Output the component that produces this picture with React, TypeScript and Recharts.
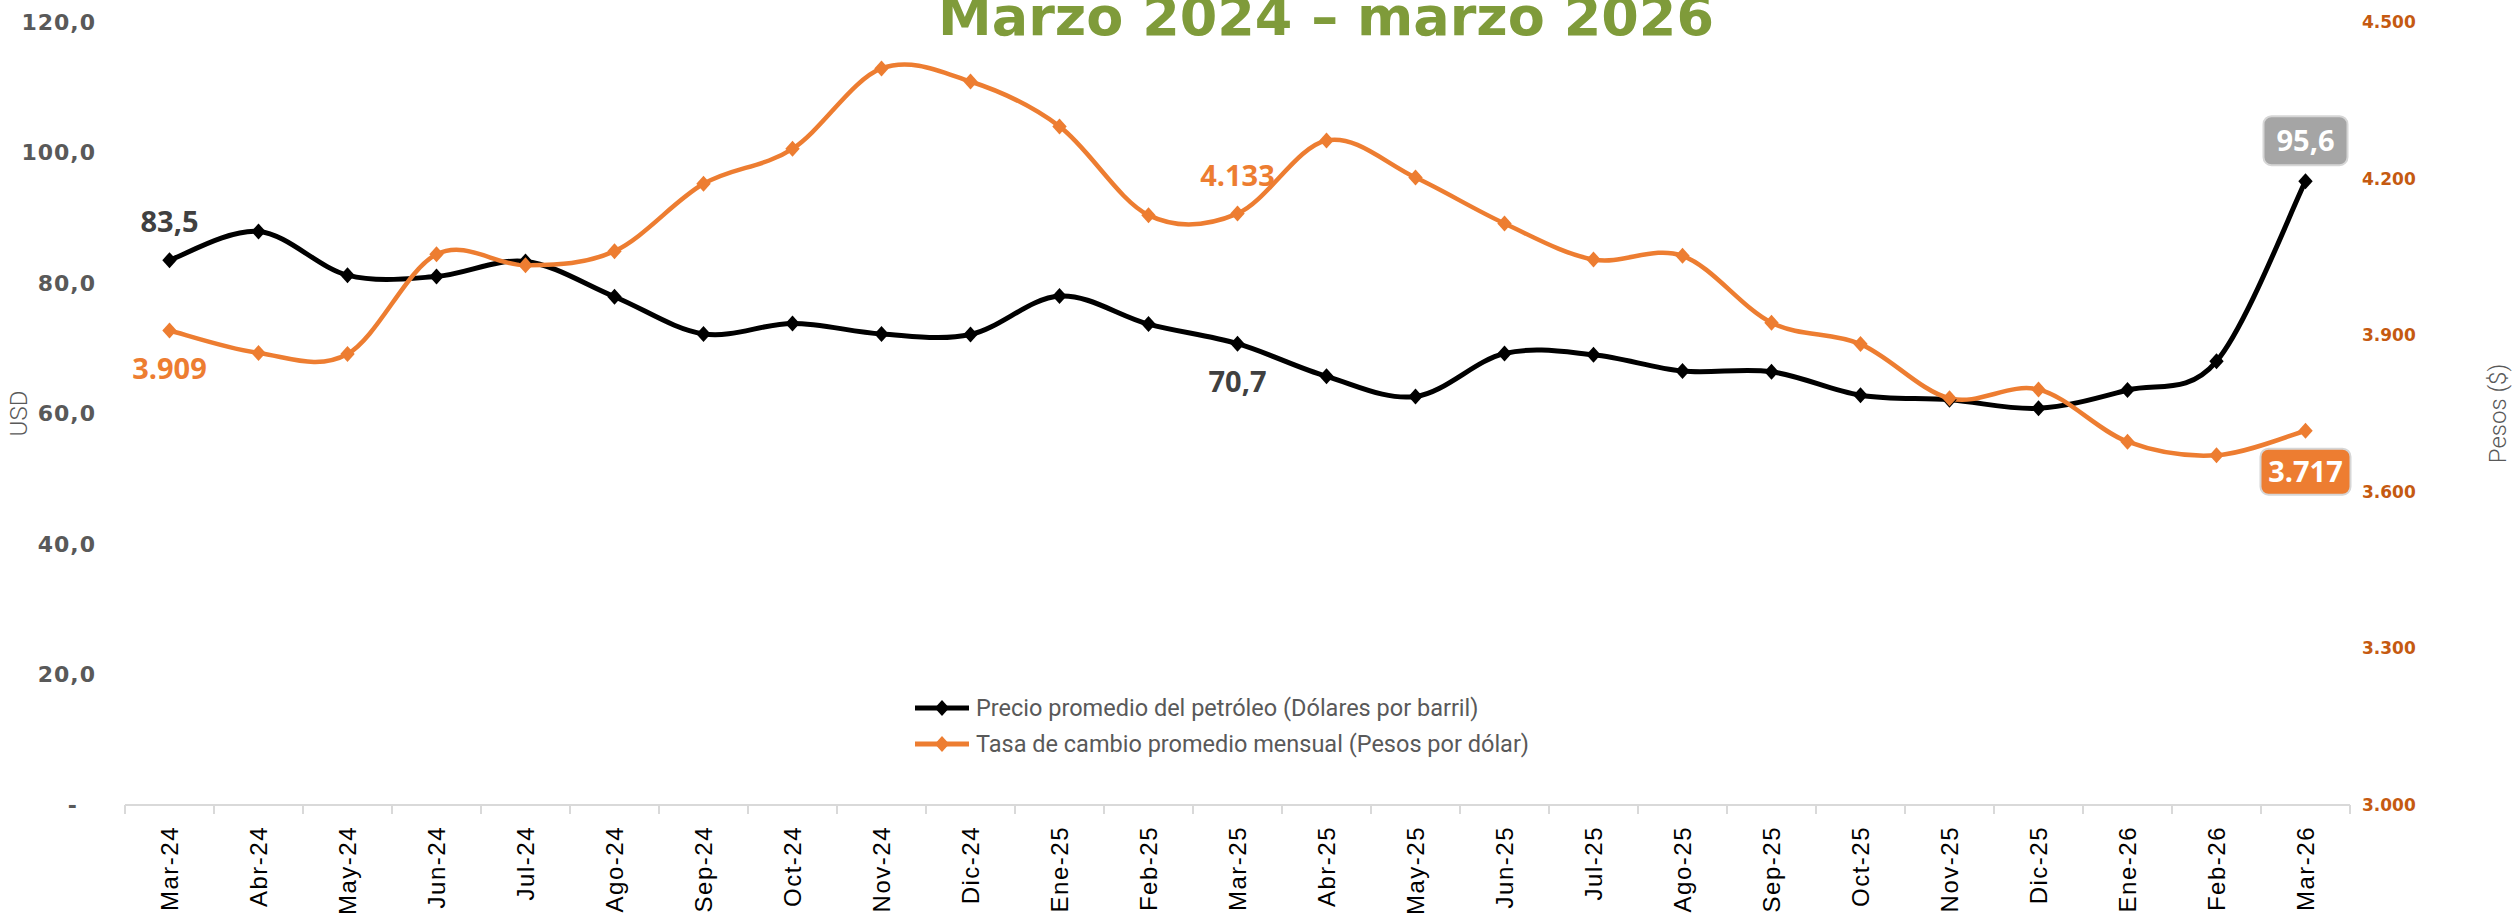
import React from 'react';
import { LineChart, Line, XAxis, YAxis, Legend, Label } from 'recharts';

// ---------- DATA ----------
const MONTHS = [
  'Mar-24', 'Abr-24', 'May-24', 'Jun-24', 'Jul-24', 'Ago-24', 'Sep-24', 'Oct-24', 'Nov-24', 'Dic-24',
  'Ene-25', 'Feb-25', 'Mar-25', 'Abr-25', 'May-25', 'Jun-25', 'Jul-25', 'Ago-25', 'Sep-25', 'Oct-25',
  'Nov-25', 'Dic-25', 'Ene-26', 'Feb-26', 'Mar-26',
];
const OIL_PRICE = [
  83.5, 87.9, 81.2, 81.0, 83.3, 77.9, 72.2, 73.8, 72.2, 72.1,
  78.0, 73.7, 70.7, 65.7, 62.6, 69.2, 69.0, 66.5, 66.4, 62.8,
  62.1, 60.8, 63.6, 68.0, 95.6,
];
const EXCHANGE_RATE = [
  3909, 3866, 3864, 4055, 4034, 4061, 4190, 4257, 4411, 4386,
  4300, 4130, 4133, 4273, 4202, 4114, 4045, 4052, 3924, 3883,
  3779, 3796, 3696, 3670, 3717,
];
const LEFT_TICKS = [0, 20, 40, 60, 80, 100, 120];
const RIGHT_TICKS = [3000, 3300, 3600, 3900, 4200, 4500];
const OIL_NAME = 'Precio promedio del petróleo (Dólares por barril)';
const RATE_NAME = 'Tasa de cambio promedio mensual (Pesos por dólar)';
const TITLE = 'Marzo 2024 – marzo 2026';
const OIL_LABELS = [
  { index: 0, mode: 'above' },
  { index: 12, mode: 'below' },
  { index: 24, mode: 'boxAbove' },
];
const RATE_LABELS = [
  { index: 0, mode: 'below' },
  { index: 12, mode: 'above' },
  { index: 24, mode: 'boxBelow' },
];

// ---------- LAYOUT / STYLE ----------
const W = 2519;
const H = 920;
const TOP = 22;
const LEFT_W = 125;
const RIGHT_W = 169;
const XAXIS_H = 115;
const PLOT_W = W - LEFT_W - RIGHT_W;
const HALF_BAND = PLOT_W / MONTHS.length / 2;
const BLACK = '#000000';
const ORANGE = '#ED7D31';
const GRAY_TXT = '#595959';
const DARK_LBL = '#404040';
const RIGHT_TXT = '#C55A11';

const data = MONTHS.map((m, i) => ({ month: m, oil: OIL_PRICE[i], rate: EXCHANGE_RATE[i] }));

const fmtOil = (v: number) => v.toFixed(1).replace('.', ',');
const fmtRate = (v: number) => Math.round(v).toString().replace(/\B(?=(\d{3})+(?!\d))/g, '.');

// Excel-like smoothed line (Catmull-Rom style bezier)
function excelCurve(context: any) {
  let pts: number[][] = [];
  return {
    areaStart() {},
    areaEnd() {},
    lineStart() { pts = []; },
    point(x: number, y: number) { pts.push([+x, +y]); },
    lineEnd() {
      if (!pts.length) return;
      context.moveTo(pts[0][0], pts[0][1]);
      for (let i = 0; i < pts.length - 1; i++) {
        const p0 = pts[i - 1] || pts[i];
        const p1 = pts[i];
        const p2 = pts[i + 1];
        const p3 = pts[i + 2] || p2;
        const c1x = p1[0] + (p2[0] - p0[0]) / 6;
        const c1y = p1[1] + (p2[1] - p0[1]) / 6;
        const c2x = p2[0] - (p3[0] - p1[0]) / 6;
        const c2y = p2[1] - (p3[1] - p1[1]) / 6;
        context.bezierCurveTo(c1x, c1y, c2x, c2y, p2[0], p2[1]);
      }
    },
  };
}

const diamondPath = (cx: number, cy: number, r: number) =>
  `M${cx} ${cy - r} L${cx + r * 0.9} ${cy} L${cx} ${cy + r} L${cx - r * 0.9} ${cy} Z`;

const makeDot = (color: string) => (p: any) => {
  const { cx, cy, index } = p;
  if (cx == null || cy == null) return <g key={`d-${color}-${index}`} />;
  return <path key={`d-${color}-${index}`} d={diamondPath(cx, cy, 8)} fill={color} />;
};

const LABEL_FONT = '"Open Sans", "Noto Sans", sans-serif';

const makeLabel = (cfg: { index: number; mode: string }[], color: string, boxFill: string, fmt: (v: number) => string) => (p: any) => {
  const { x, y, value, index } = p;
  const c = cfg.find((k) => k.index === index);
  if (!c || x == null || y == null) return <g key={`l-${color}-${index}`} />;
  const txt = fmt(Number(value));
  if (c.mode === 'above' || c.mode === 'below') {
    const ty = c.mode === 'above' ? y - 38 : y + 38;
    return (
      <text key={`l-${color}-${index}`} x={x} y={ty} dy="0.35em" textAnchor="middle"
        fontFamily={LABEL_FONT} fontWeight={700} fontSize={29} fill={color}>{txt}</text>
    );
  }
  const bw = txt.length > 4 ? 90 : 84;
  const bh = c.mode === 'boxAbove' ? 49 : 46;
  const by = c.mode === 'boxAbove' ? y - 16 - bh : y + 18;
  return (
    <g key={`l-${color}-${index}`}>
      <rect x={x - bw / 2} y={by} width={bw} height={bh} rx={8} ry={8} fill={boxFill} stroke="#D6D6D6" strokeWidth={2} />
      <text x={x} y={by + bh / 2} dy="0.35em" textAnchor="middle" fontFamily={LABEL_FONT}
        fontWeight={700} fontSize={29} fill="#FFFFFF">{txt}</text>
    </g>
  );
};

const LeftTick = (p: any) => {
  const { x, y, payload } = p;
  const v = payload.value;
  return (
    <text x={v === 0 ? x - 18 : x} y={y} dy="0.35em" textAnchor="end" fontFamily="DejaVu Sans, sans-serif"
      fontWeight={700} fontSize={22} letterSpacing={1} fill={GRAY_TXT}>{v === 0 ? '-' : fmtOil(v)}</text>
  );
};

const RightTick = (p: any) => {
  const { x, y, payload } = p;
  return (
    <text x={x} y={y} dy="0.35em" textAnchor="start" fontFamily="DejaVu Sans, sans-serif"
      fontWeight={700} fontSize={17} fill={RIGHT_TXT}>{fmtRate(payload.value)}</text>
  );
};

const XTick = (p: any) => {
  const { x, y, payload, index } = p;
  const last = index === MONTHS.length - 1;
  const ty = y + 21;
  return (
    <g>
      <line x1={x - HALF_BAND} x2={x - HALF_BAND} y1={y} y2={y + 9} stroke="#D9D9D9" strokeWidth={2} />
      {last && <line x1={x + HALF_BAND} x2={x + HALF_BAND} y1={y} y2={y + 9} stroke="#D9D9D9" strokeWidth={2} />}
      <text x={x} y={ty} dy="0.35em" transform={`rotate(-90 ${x} ${ty})`} textAnchor="end"
        fontFamily="Liberation Sans, Arial, sans-serif" fontSize={24} letterSpacing={1.5} fill="#000000">
        {payload.value}
      </text>
    </g>
  );
};

const LegendContent = (props: any) => {
  const items = props.payload || [];
  return (
    <div style={{ display: 'flex', flexDirection: 'column' }}>
      {items.map((it: any, i: number) => (
        <div key={i} style={{ display: 'flex', alignItems: 'center', height: 36 }}>
          <svg width={56} height={20} style={{ marginRight: 6 }}>
            <line x1={1} x2={55} y1={10} y2={10} stroke={it.color} strokeWidth={5} />
            <path d={diamondPath(28, 10, 8)} fill={it.color} />
          </svg>
          <span style={{ fontFamily: 'Roboto, sans-serif', fontSize: 23.5, color: GRAY_TXT, whiteSpace: 'nowrap' }}>
            {it.value}
          </span>
        </div>
      ))}
    </div>
  );
};

const axisTitle = (txt: string, dxFromLeft: number) => (p: any) => {
  const vb = p.viewBox || {};
  const x = (vb.x ?? 0) + dxFromLeft;
  const y = (vb.y ?? TOP) + (vb.height ?? H - TOP - XAXIS_H) / 2;
  return (
    <text x={x} y={y} dy="0.35em" transform={`rotate(-90 ${x} ${y})`} textAnchor="middle"
      fontFamily="Roboto, sans-serif" fontWeight={300} fontSize={24} fill={GRAY_TXT}>{txt}</text>
  );
};

export default function App() {
  return (
    <div style={{ position: 'absolute', left: 0, top: 0, width: W, height: H, background: '#FFFFFF', overflow: 'hidden' }}>
      <LineChart width={W} height={H} data={data} margin={{ top: TOP, right: 0, bottom: 0, left: 0 }}>
        <XAxis dataKey="month" height={XAXIS_H} interval={0} tickSize={0} tickMargin={0}
          padding={{ left: HALF_BAND, right: HALF_BAND }}
          axisLine={{ stroke: '#D9D9D9', strokeWidth: 2 }} tickLine={false} tick={<XTick />} />
        <YAxis yAxisId="left" width={LEFT_W} domain={[0, 120]} ticks={LEFT_TICKS} interval={0}
          axisLine={false} tickLine={false} tickSize={0} tickMargin={29} tick={<LeftTick />}>
          <Label content={axisTitle('USD', 19)} />
        </YAxis>
        <YAxis yAxisId="right" orientation="right" width={RIGHT_W} domain={[3000, 4500]} ticks={RIGHT_TICKS}
          interval={0} axisLine={false} tickLine={false} tickSize={0} tickMargin={12} tick={<RightTick />}>
          <Label content={axisTitle('Pesos ($)', 148)} />
        </YAxis>
        <Legend content={<LegendContent />} layout="vertical" verticalAlign="middle" align="center"
          wrapperStyle={{ left: 914, top: 690, width: 700 }} />
        <Line yAxisId="left" name={OIL_NAME} dataKey="oil" stroke={BLACK} strokeWidth={5}
          type={excelCurve as any} dot={makeDot(BLACK)} activeDot={false} isAnimationActive={false}
          label={makeLabel(OIL_LABELS, DARK_LBL, '#A5A5A5', fmtOil)} />
        <Line yAxisId="right" name={RATE_NAME} dataKey="rate" stroke={ORANGE} strokeWidth={4.5}
          type={excelCurve as any} dot={makeDot(ORANGE)} activeDot={false} isAnimationActive={false}
          label={makeLabel(RATE_LABELS, ORANGE, ORANGE, fmtRate)} />
      </LineChart>
      <svg width={W} height={60} style={{ position: 'absolute', left: 0, top: 0, pointerEvents: 'none' }}>
        <text x={1326} y={35} textAnchor="middle" fontFamily="DejaVu Sans, sans-serif" fontWeight={700}
          fontSize={54} fill="#7F9B3A">{TITLE}</text>
      </svg>
    </div>
  );
}
